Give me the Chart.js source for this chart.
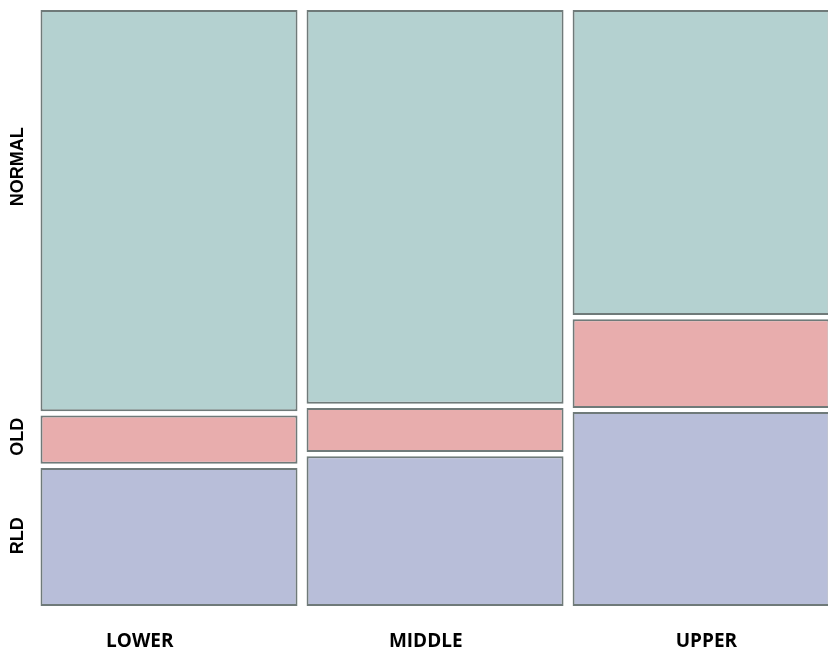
<!DOCTYPE html>
<html>
<head>
<meta charset="utf-8">
<script src="https://cdn.jsdelivr.net/npm/chart.js@4/dist/chart.umd.min.js"></script>
<style>
  html, body { margin: 0; padding: 0; background: #fff; }
  #wrap { width: 828px; height: 653px; }
</style>
</head>
<body>
<div id="wrap"><canvas id="mosaic"></canvas></div>
<script>
// columns and the share of each row inside a column
var groups = ['LOWER', 'MIDDLE', 'UPPER'];
var rowNames = ['RLD', 'OLD', 'NORMAL'];
var rld = [0.235, 0.255, 0.330];
var old = [0.082, 0.075, 0.151];
var normal = [0.683, 0.670, 0.519];
// where the labels sit (column labels are not centred in the original)
var groupLabelPos = [-0.11, 0.965, 2.02];
var rowLabelPos = [0.118, 0.284, 0.737];

var shares = [rld, old, normal];
var colors = ['#b8bed9', '#e8adad', '#b4d1d0'];
var gap = 0.007;

// turn shares into floating [start, end] pieces per column
var pieces = shares.map(function () { return []; });
groups.forEach(function (g, i) {
    var start = 0;
    var room = 1 - gap * (shares.length - 1);
    shares.forEach(function (s, k) {
        var end = start + s[i] * room;
        pieces[k].push({ x: i, y: [start, end] });
        start = end + gap;
    });
});

var rowLabels = {
    id: 'rowLabels',
    afterDraw: function (chart) {
        var ctx = chart.ctx;
        var y = chart.scales.y;
        ctx.save();
        ctx.font = 'bold 18px "Liberation Sans"';
        ctx.fillStyle = '#000';
        ctx.textAlign = 'center';
        ctx.textBaseline = 'middle';
        rowNames.forEach(function (name, k) {
            ctx.save();
            ctx.translate(18, y.getPixelForValue(rowLabelPos[k]));
            ctx.rotate(-Math.PI / 2);
            ctx.fillText(name, 0, 0);
            ctx.restore();
        });
        ctx.restore();
    }
};

var ctx = document.getElementById('mosaic').getContext('2d');
var chart = new Chart(ctx, {
    type: 'bar',
    data: {
        datasets: rowNames.map(function (name, k) {
            return {
                label: name,
                data: pieces[k],
                backgroundColor: colors[k],
                borderColor: '#6f7a79',
                borderWidth: 2,
                borderSkipped: false,
                barPercentage: 0.966,
                categoryPercentage: 1
            };
        })
    },
    options: {
        responsive: true,
        maintainAspectRatio: false,
        animation: false,
        layout: { padding: { top: 10, right: 0, left: 0, bottom: 0 } },
        plugins: {
            legend: { display: false },
            tooltip: { enabled: false }
        },
        scales: {
            x: {
                type: 'linear',
                stacked: true,
                offset: false,
                min: -0.5,
                max: 2.477,
                grid: { display: false, drawTicks: false, offset: false },
                border: { display: false },
                afterBuildTicks: function (scale) {
                    scale.ticks = groupLabelPos.map(function (v) { return { value: v }; });
                },
                ticks: {
                    color: '#000',
                    padding: 24,
                    autoSkip: false,
                    maxRotation: 0,
                    font: { family: 'Open Sans', weight: 'bold', size: 19 },
                    callback: function (value, index) { return groups[index]; }
                },
                afterFit: function (scale) { scale.height = 47; }
            },
            y: {
                min: 0,
                max: 1,
                grid: { display: false, drawTicks: false },
                border: { display: false },
                ticks: { display: false },
                afterFit: function (scale) { scale.width = 36; }
            }
        }
    },
    plugins: [rowLabels]
});
</script>
</body>
</html>
